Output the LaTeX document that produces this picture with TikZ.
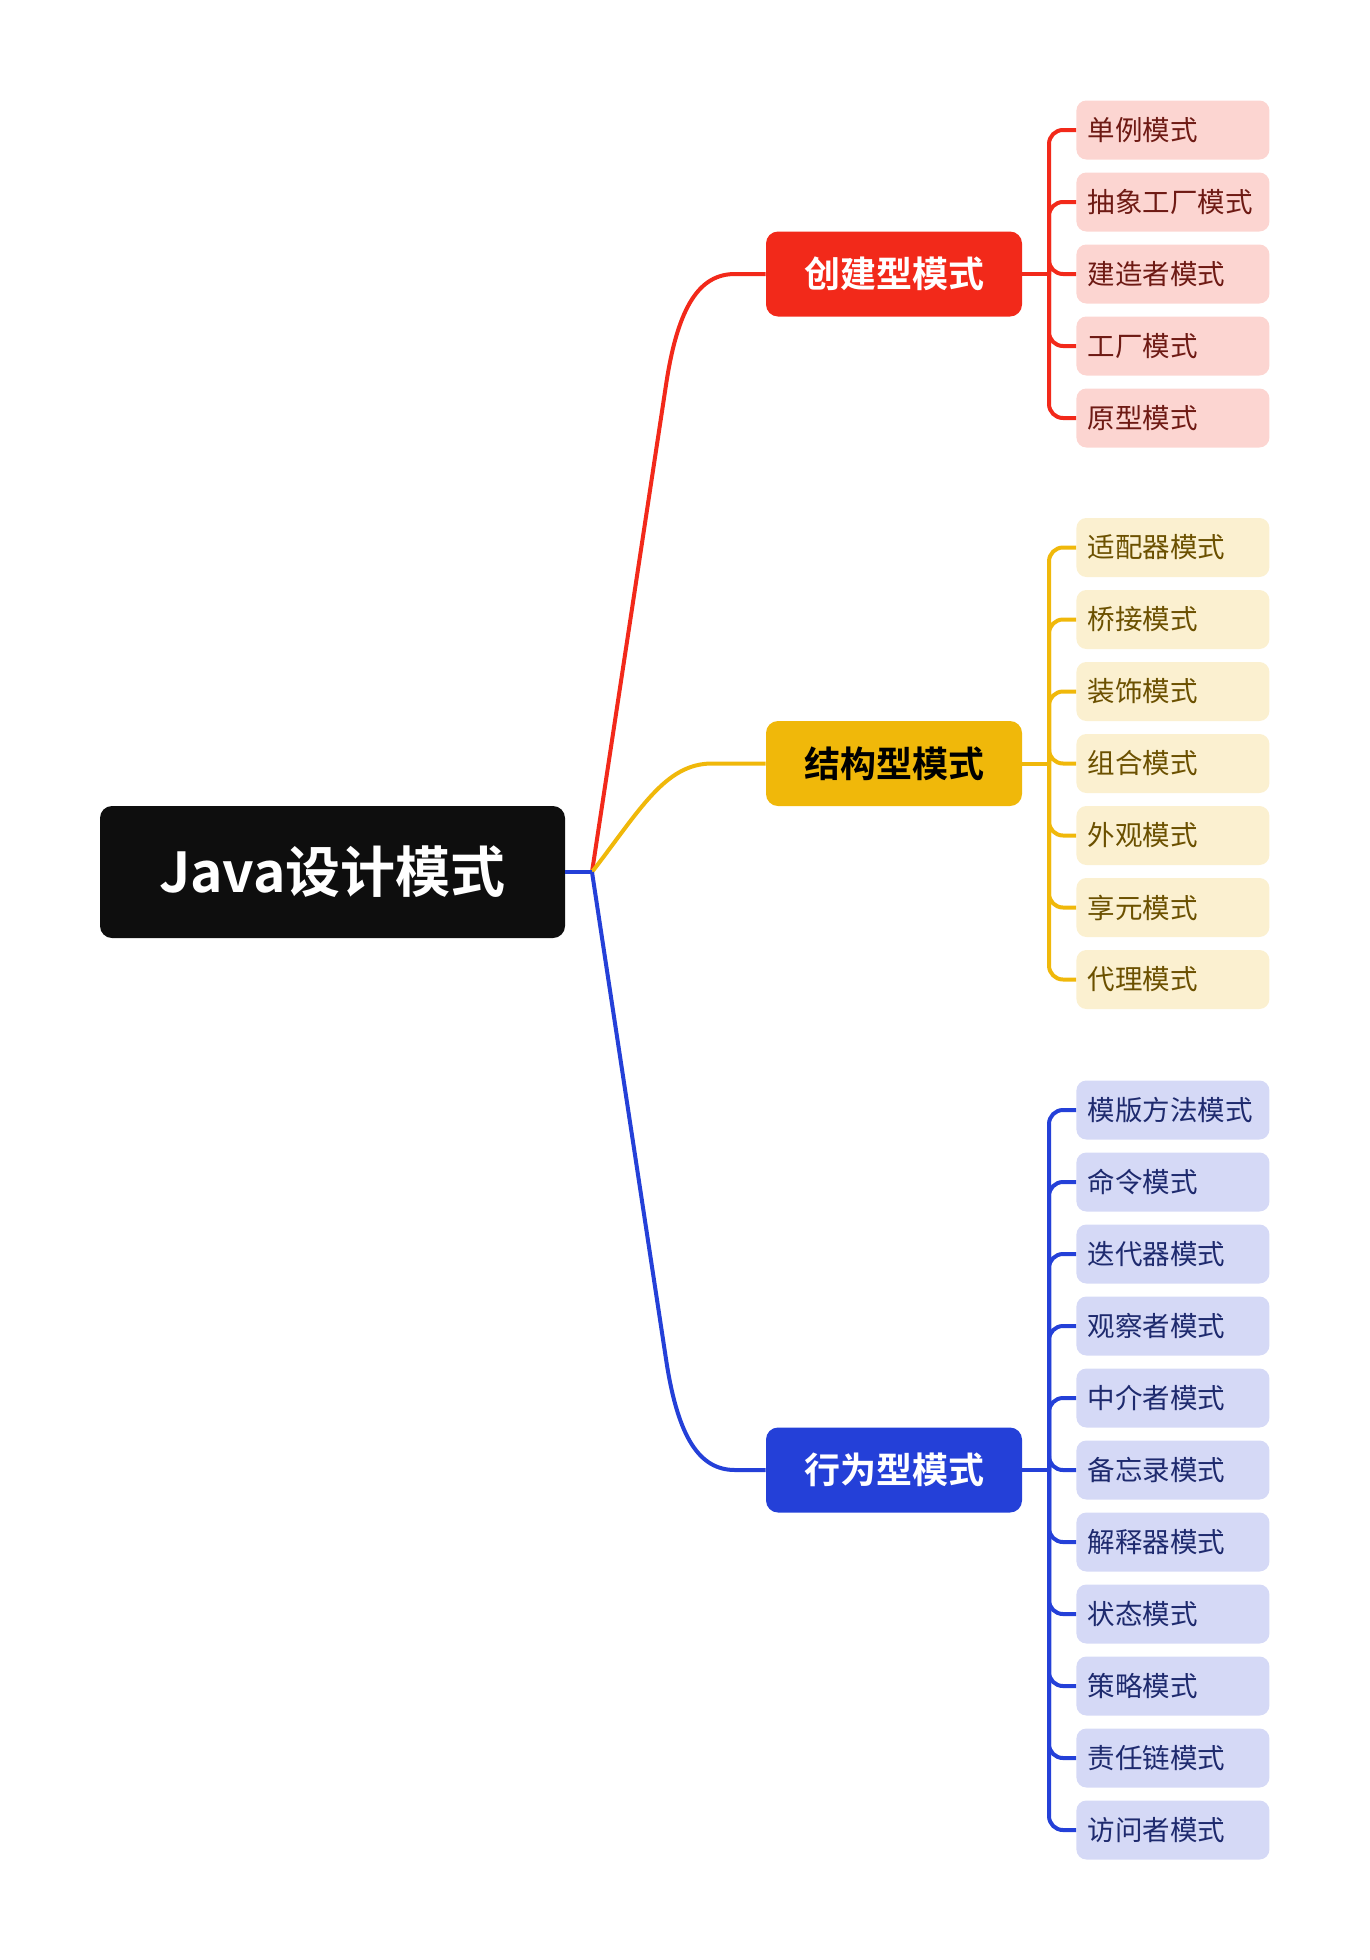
\documentclass[tikz,border=0pt]{standalone}
\usepackage{fontspec}
\setmainfont{Noto Sans CJK SC}[BoldFont={Noto Sans CJK SC Bold}]
\definecolor{rootc}{HTML}{0E0E0E}
\definecolor{redc}{HTML}{F2291A}
\definecolor{yelc}{HTML}{F0B80A}
\definecolor{bluc}{HTML}{2440D8}
\definecolor{redl}{HTML}{FCD5D1}
\definecolor{yell}{HTML}{FBF0D0}
\definecolor{blul}{HTML}{D5D9F6}
\definecolor{redt}{HTML}{6E1A14}
\definecolor{yelt}{HTML}{6B5000}
\definecolor{blut}{HTML}{1E2A6E}
\begin{document}
\begin{tikzpicture}[x=0.5pt,y=-0.5pt,
  rootbox/.style={fill=rootc, rounded corners=6pt, minimum width=232.5pt, minimum height=66pt, text=white, inner sep=0pt, font=\bfseries\fontsize{27.5}{30}\selectfont},
  catbox/.style={rounded corners=6pt, minimum width=128pt, minimum height=42.5pt, inner sep=0pt, font=\bfseries\fontsize{18}{20}\selectfont},
  leafbox/.style={rounded corners=5pt, minimum height=29.5pt, text width=85pt, inner xsep=5.75pt, inner ysep=0pt, align=left, anchor=west, font=\fontsize{13.75}{15}\selectfont},
  conn/.style={line width=2pt},
  brconn/.style={line width=2pt, rounded corners=7pt}
]
\useasboundingbox (0,0) rectangle (1370,1960);

% root
\node[rootbox] (root) at (332.5,872) {Java设计模式};
\coordinate (J) at (592,872);

% categories
\node[catbox, fill=redc, text=white] (cr) at (894,274) {创建型模式};
\node[catbox, fill=yelc, text=black] (cy) at (894,763.5) {结构型模式};
\node[catbox, fill=bluc, text=white] (cb) at (894,1470) {行为型模式};

% main connectors
\draw[conn, redc] (J) -- (666,385) .. controls (678,305) and (700,274) .. (735,274) -- (cr.west);
\draw[conn, yelc] (J) .. controls (640,810) and (665,763.5) .. (712,763.5) -- (cy.west);
\draw[conn, bluc] (J) -- (666,1359) .. controls (678,1439) and (700,1470) .. (735,1470) -- (cb.west);
\draw[conn, bluc] (root.east) -- (J);

% red leaves
\foreach \t [count=\i] in {单例模式,抽象工厂模式,建造者模式,工厂模式,原型模式}{
  \node[leafbox, fill=redl, text=redt] (r\i) at (1076,{130+72*(\i-1)}) {\t};
}
\coordinate (rt) at (1049,274);
\draw[conn, redc] (cr.east) -- (rt);
\foreach \i in {1,...,5}{ \draw[brconn, redc] (rt) |- (r\i.west); }

% yellow leaves
\foreach \t [count=\i] in {适配器模式,桥接模式,装饰模式,组合模式,外观模式,享元模式,代理模式}{
  \node[leafbox, fill=yell, text=yelt] (y\i) at (1076,{547.5+72*(\i-1)}) {\t};
}
\coordinate (yt) at (1049,763.5);
\draw[conn, yelc] (cy.east) -- (yt);
\foreach \i in {1,...,7}{ \draw[brconn, yelc] (yt) |- (y\i.west); }

% blue leaves
\foreach \t [count=\i] in {模版方法模式,命令模式,迭代器模式,观察者模式,中介者模式,备忘录模式,解释器模式,状态模式,策略模式,责任链模式,访问者模式}{
  \node[leafbox, fill=blul, text=blut] (b\i) at (1076,{1110+72*(\i-1)}) {\t};
}
\coordinate (bt) at (1049,1470);
\draw[conn, bluc] (cb.east) -- (bt);
\foreach \i in {1,...,11}{ \draw[brconn, bluc] (bt) |- (b\i.west); }
\end{tikzpicture}
\end{document}
